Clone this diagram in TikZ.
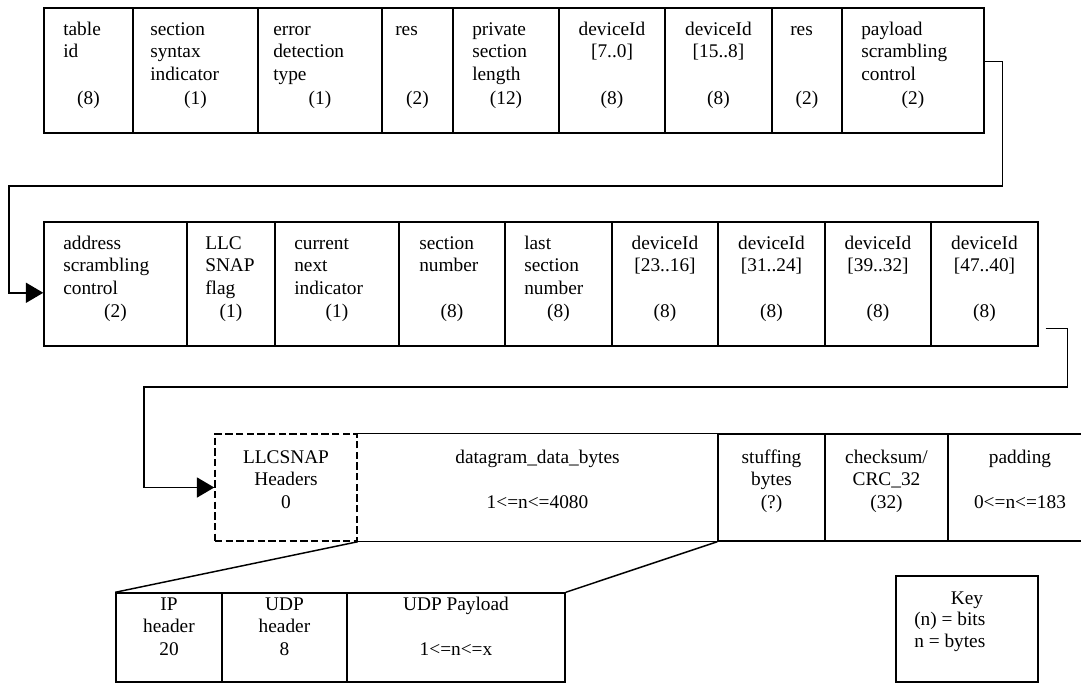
\documentclass[tikz,border=0pt]{standalone}
\usepackage{fontspec}
\setmainfont{Liberation Serif}
\usetikzlibrary{arrows.meta,positioning,calc,fit}
\newcommand{\fldl}[1]{\begin{tabular}[t]{@{}l@{}}#1\end{tabular}}
\newcommand{\fldc}[1]{\begin{tabular}[t]{@{}c@{}}#1\end{tabular}}

\begin{document}
\begin{tikzpicture}[x=0.75pt,y=-0.75pt,
    every node/.style={font=\fontsize{14.5pt}{17pt}\selectfont,inner sep=0pt},
    field/.style={draw,line width=1.1pt,inner sep=0pt},
    labl/.style={anchor=base west},
    labc/.style={anchor=base},
    bits/.style={anchor=base},
    flow/.style={line width=1.1pt,-{Triangle[length=13pt,width=15pt]}}]
  \useasboundingbox (0,0) rectangle (1081,683);
  \clip (0,0) rectangle (1081,683);
  % Row 1
  \foreach \nm/\xa/\xb/\lx/\st/\fm/\txt/\bt in {
      tid/44/133/63/labl/\fldl/{table\\id}/(8),
      ssi/133/258/150/labl/\fldl/{section\\syntax\\indicator}/(1),
      edt/258/382/273/labl/\fldl/{error\\detection\\type}/(1),
      resa/382/453/395/labl/\fldl/{res}/(2),
      psl/453/559/472/labl/\fldl/{private\\section\\length}/(12),
      dva/559/665/612/labc/\fldc/{deviceId\\{}[7..0]}/(8),
      dvb/665/772/718.5/labc/\fldc/{deviceId\\{}[15..8]}/(8),
      resb/772/842/790/labl/\fldl/{res}/(2),
      psc/842/984/861/labl/\fldl/{payload\\scrambling\\control}/(2)}{
    \node[field,fit={(\xa,8) (\xb,133)}] (\nm) {};
    \node[\st] (\nm-t) at (\lx,35) {\fm{\txt}};
    \node[bits] (\nm-b) at ({(\xa+\xb)/2},104) {\bt};
  }
  % Row 2
  \foreach \nm/\xa/\xb/\lx/\st/\fm/\txt/\bt in {
      asc/44/187/63/labl/\fldl/{address\\scrambling\\control}/(2),
      llcf/187/275/205/labl/\fldl/{LLC\\SNAP\\flag}/(1),
      cni/275/399/294/labl/\fldl/{current\\next\\indicator}/(1),
      secn/399/505/419/labl/\fldl/{section\\number}/(8),
      lsn/505/612/524/labl/\fldl/{last\\section\\number}/(8),
      dvc/612/718/665/labc/\fldc/{deviceId\\{}[23..16]}/(8),
      dvd/718/825/771.5/labc/\fldc/{deviceId\\{}[31..24]}/(8),
      dve/825/931/878/labc/\fldc/{deviceId\\{}[39..32]}/(8),
      dvf/931/1038/984.5/labc/\fldc/{deviceId\\{}[47..40]}/(8)}{
    \node[field,fit={(\xa,222) (\xb,346)}] (\nm) {};
    \node[\st] (\nm-t) at (\lx,249) {\fm{\txt}};
    \node[bits] (\nm-b) at ({(\xa+\xb)/2},317) {\bt};
  }
  \coordinate (ra-out) at ($(psc.north east)!0.43!(psc.south east)$);
  \coordinate (rb-in) at ($(asc.north west)!0.57!(asc.south west)$);
  \draw[flow] (ra-out) -- ++(18,0) |- (9,186) |- (rb-in);
  % Row 3
  \node[field,dash pattern=on 5.5pt off 2.5pt,fit={(215,434) (357,541)}] (llc) {};
  \node[labc] (llc-t) at (286,463) {\fldc{LLCSNAP\\Headers\\0}};
  \node[inner sep=0pt,fit={(357,434) (718,541)}] (dgb) {};
  \draw[line width=1.1pt] (dgb.north west) -- (dgb.north east) -- (dgb.south east) -- (dgb.south west);
  \node[labc] (dgb-t) at (537.5,463) {\fldc{datagram\_data\_bytes\\[17pt]1<=n<=4080}};
  \node[field,fit={(718,434) (825,541)}] (stb) {};
  \node[labc] (stb-t) at (771.5,463) {\fldc{stuffing\\bytes\\(?)}};
  \node[field,fit={(825,434) (948,541)}] (crc) {};
  \node[labc] (crc-t) at (886.5,463) {\fldc{checksum/\\CRC\_32\\(32)}};
  \node[field,fit={(948,434) (1092,541)}] (pad) {};
  \node[labc] (pad-t) at (1020,463) {\fldc{padding\\[17pt]0<=n<=183}};
  \coordinate (rb-out) at ($(dvf.north east)!0.855!(dvf.south east)+(7,0)$);
  \draw[flow] (rb-out) -- ++(22,0) |- (144,387) |- (llc.west);
  % Row 4
  \node[field,fit={(116,593) (222,682)}] (iph) {};
  \node[labc] (iph-t) at (169,610) {\fldc{IP\\header\\20}};
  \node[field,fit={(222,593) (347,682)}] (udph) {};
  \node[labc] (udph-t) at (284.5,610) {\fldc{UDP\\header\\8}};
  \node[field,fit={(347,593) (565,682)}] (udpp) {};
  \node[labc] (udpp-t) at (456,610) {\fldc{UDP Payload\\[17pt]1<=n<=x}};
  \draw[line width=1.1pt] (llc.south east) -- (iph.north west);
  \draw[line width=1.1pt] (stb.south west) -- (udpp.north east);
  % Key
  \node[field,fit={(896,576) (1038,682)}] (key) {};
  \node[labc] (key-t) at (967,604) {Key};
  \node[labl] (key-l) at (914,625) {\fldl{(n) = bits\\n = bytes}};
\end{tikzpicture}
\end{document}
